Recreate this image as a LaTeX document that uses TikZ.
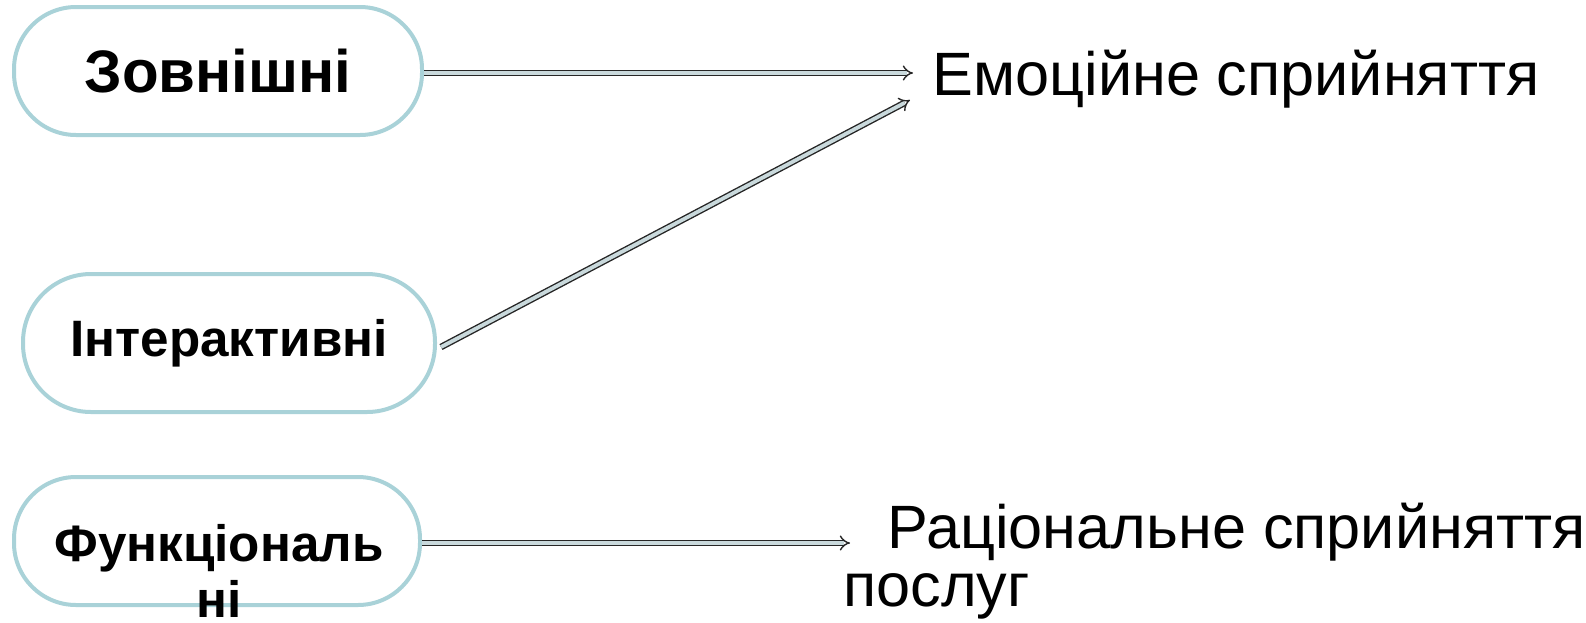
\documentclass[tikz,border=0pt]{standalone}
\usepackage{fontspec}
\setmainfont{Liberation Sans}
\usetikzlibrary{arrows.meta}
\definecolor{boxedge}{HTML}{A9D2D8}
\definecolor{arrfill}{HTML}{C9D9DC}
\tikzset{
  pill/.style={draw=boxedge, line width=2pt, fill=white, rounded corners=31pt,
    minimum width=204pt, minimum height=64pt, inner sep=0pt},
  boxtext/.style={font=\bfseries\fontsize{25.6}{28}\selectfont, align=center},
  dblarrow/.style={draw=black!85, line width=0.7pt, double=arrfill, double distance=1.9pt,
    -{Implies[]}},
  outtext/.style={font=\fontsize{30.6}{29}\selectfont, align=left, inner sep=0pt}
}
\begin{document}
\begin{tikzpicture}[x=0.5pt,y=-0.5pt]
\useasboundingbox (0,0) rectangle (1586,622);
% boxes
\node[pill] (b1) at (218,71) {};
\node[boxtext, font=\bfseries\fontsize{30}{34}\selectfont] (t1) at (b1.center) {Зовнішні};
\node[pill, minimum width=206pt, minimum height=69pt, rounded corners=34pt] (b2) at (229,343) {};
\node[boxtext] (t2) at (b2.center) {Інтерактивні};
\node[pill, minimum width=203pt] (b3) at (217,541) {};
\node[boxtext, anchor=north] (t3) at (219,517) {Функціональ\\ні};
% right texts
\node[outtext, anchor=west] (e1) at (932,79) {Емоційне сприйняття};
\node[outtext, anchor=north west] (r1) at (843,503) {\hspace*{22pt}Раціональне сприйняття\\послуг};
% connector ends
\coordinate (e1in) at (913,73);
\coordinate (e2in) at (910,100);
\coordinate (r1in) at (850,543);
% arrows
\draw[dblarrow] (b1.east |- 0,73) -- (e1in);
\draw[dblarrow] ([xshift=2pt,yshift=-2pt]b2.east) -- (e2in);
\draw[dblarrow] (b3.east |- 0,543) -- (r1in);
\end{tikzpicture}
\end{document}
